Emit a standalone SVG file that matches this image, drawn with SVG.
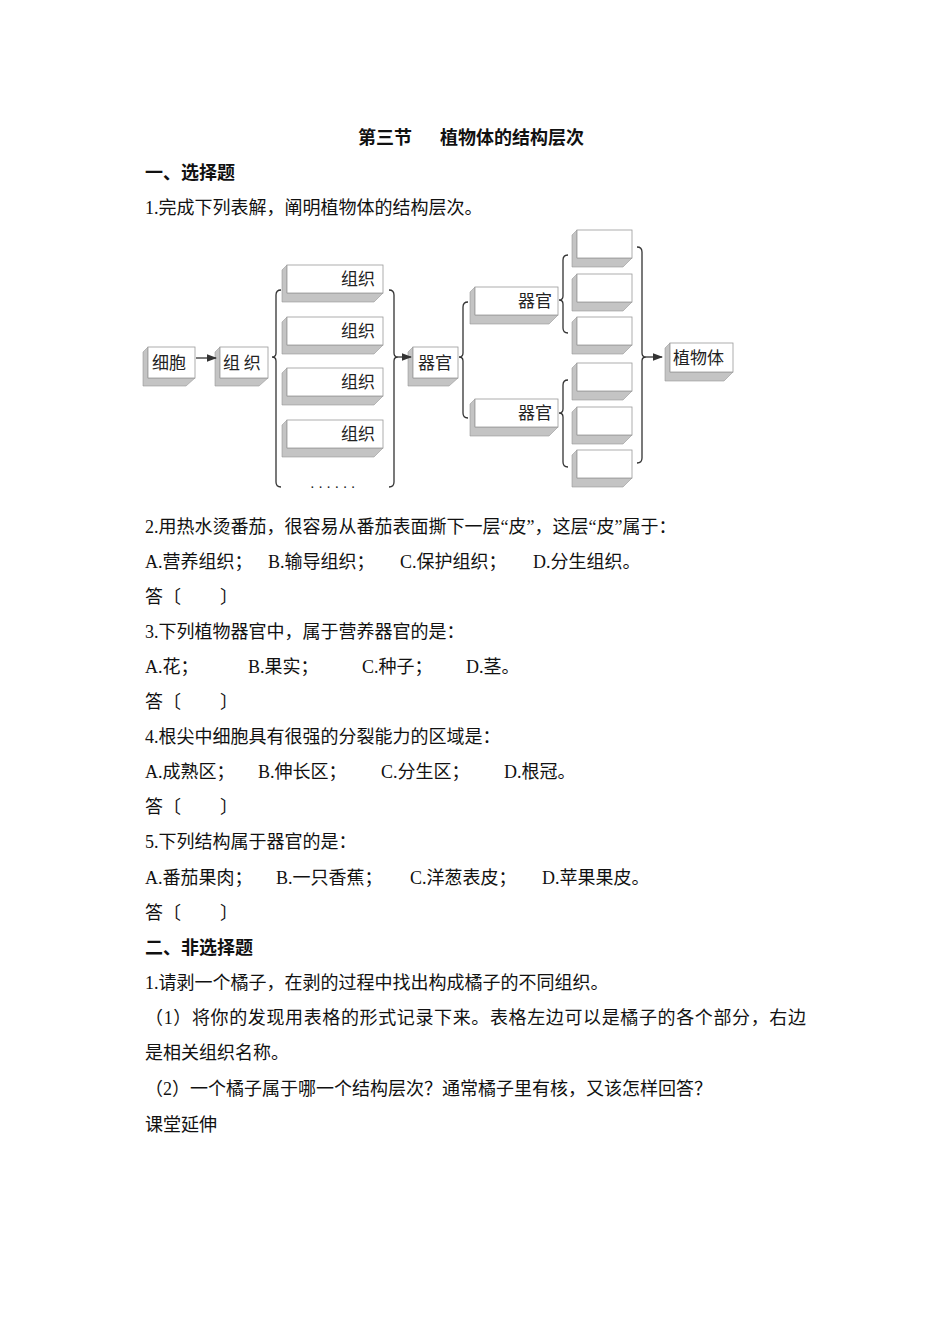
<svg xmlns="http://www.w3.org/2000/svg" width="950" height="1344" viewBox="0 0 950 1344">
<style>
text{font-family:"Liberation Serif","Noto Sans CJK SC",serif;font-size:18px;fill:#111}
.b{font-weight:bold}
.sh{fill:#c4c4c4;stroke:#999;stroke-width:0.6}
.fr{fill:#fff;stroke:#999;stroke-width:0.8}
.lb{font-family:"Noto Sans CJK SC",sans-serif;font-size:17px;fill:#222}
.br{fill:none;stroke:#333;stroke-width:1.3}
.ar{stroke:#333;stroke-width:1.3;marker-end:url(#ah)}
</style>
<defs><marker id="ah" markerWidth="8" markerHeight="6" refX="7" refY="3" orient="auto"><path d="M0,0L8,3L0,6z" fill="#333"/></marker></defs>
<rect width="950" height="1344" fill="#fff"/>
<text class="b" x="358" y="144">第三节</text>
<text class="b" x="440" y="144">植物体的结构层次</text>
<text class="b" x="145" y="179">一、选择题</text>
<text x="145" y="214">1.完成下列表解，阐明植物体的结构层次。</text>

<g id="n-xibao"><polygon class="sh" points="148,347 143,352 143,386 186,386 195,378 148,378"/><rect class="fr" x="148" y="347" width="47" height="31"/><text class="lb" x="152" y="369">细胞</text></g>
<g id="n-zuzhi0"><polygon class="sh" points="220,347 215,352 215,386 259,386 268,378 220,378"/><rect class="fr" x="220" y="347" width="48" height="31"/><text class="lb" x="223" y="369">组 织</text></g>
<g id="n-z1"><polygon class="sh" points="287,265 282,270 282,302 374,302 383,293 287,293"/><rect class="fr" x="287" y="265" width="96" height="28"/><text class="lb" x="375" y="285" text-anchor="end">组织</text></g>
<g id="n-z2"><polygon class="sh" points="287,317 282,322 282,354 374,354 383,345 287,345"/><rect class="fr" x="287" y="317" width="96" height="28"/><text class="lb" x="375" y="337" text-anchor="end">组织</text></g>
<g id="n-z3"><polygon class="sh" points="287,368 282,373 282,405 374,405 383,396 287,396"/><rect class="fr" x="287" y="368" width="96" height="28"/><text class="lb" x="375" y="388" text-anchor="end">组织</text></g>
<g id="n-z4"><polygon class="sh" points="287,420 282,425 282,457 374,457 383,448 287,448"/><rect class="fr" x="287" y="420" width="96" height="28"/><text class="lb" x="375" y="440" text-anchor="end">组织</text></g>
<text x="310" y="492" style="font-size:14px">· · · · · ·</text>
<g id="n-qiguan"><polygon class="sh" points="413,347 408,352 408,386 449,386 458,378 413,378"/><rect class="fr" x="413" y="347" width="45" height="31"/><text class="lb" x="418" y="369">器官</text></g>
<g id="n-qg1"><polygon class="sh" points="475,287 470,292 470,324 549,324 558,315 475,315"/><rect class="fr" x="475" y="287" width="83" height="28"/><text class="lb" x="552" y="307" text-anchor="end">器官</text></g>
<g id="n-qg2"><polygon class="sh" points="475,399 470,404 470,436 549,436 558,427 475,427"/><rect class="fr" x="475" y="399" width="83" height="28"/><text class="lb" x="552" y="419" text-anchor="end">器官</text></g>
<g id="n-e1"><polygon class="sh" points="577,230 572,235 572,267 623,267 632,258 577,258"/><rect class="fr" x="577" y="230" width="55" height="28"/></g>
<g id="n-e2"><polygon class="sh" points="577,274 572,279 572,311 623,311 632,302 577,302"/><rect class="fr" x="577" y="274" width="55" height="28"/></g>
<g id="n-e3"><polygon class="sh" points="577,317 572,322 572,354 623,354 632,345 577,345"/><rect class="fr" x="577" y="317" width="55" height="28"/></g>
<g id="n-e4"><polygon class="sh" points="577,363 572,368 572,400 623,400 632,391 577,391"/><rect class="fr" x="577" y="363" width="55" height="28"/></g>
<g id="n-e5"><polygon class="sh" points="577,407 572,412 572,444 623,444 632,435 577,435"/><rect class="fr" x="577" y="407" width="55" height="28"/></g>
<g id="n-e6"><polygon class="sh" points="577,450 572,455 572,487 623,487 632,478 577,478"/><rect class="fr" x="577" y="450" width="55" height="28"/></g>
<g id="n-zhiwuti"><polygon class="sh" points="670,343 665,348 665,381 724,381 733,372 670,372"/><rect class="fr" x="670" y="343" width="63" height="29"/><text class="lb" x="673" y="364">植物体</text></g>

<g id="connectors">
<line class="ar" x1="196" y1="358" x2="216" y2="358"/>
<path class="br" d="M281,290 Q276,290 276,295 L276,353 Q276,357 272,357 Q276,357 276,361 L276,482 Q276,487 281,487"/>
<path class="br" d="M389,290 Q394,290 394,295 L394,353 Q394,357 398,357 Q394,357 394,361 L394,482 Q394,487 389,487"/>
<line class="ar" x1="398" y1="357" x2="411" y2="357"/>
<path class="br" d="M468,302 Q463,302 463,307 L463,353 Q463,357 459,357 Q463,357 463,361 L463,413 Q463,418 468,418"/>
<path class="br" d="M568,255 Q563,255 563,260 L563,296 Q563,300 559,300 Q563,300 563,304 L563,328 Q563,333 568,333"/>
<path class="br" d="M568,380 Q563,380 563,385 L563,409 Q563,413 559,413 Q563,413 563,417 L563,462 Q563,467 568,467"/>
<path class="br" d="M637,247 Q642,247 642,252 L642,353 Q642,357 646,357 Q642,357 642,361 L642,458 Q642,463 637,463"/>
<line class="ar" x1="646" y1="357" x2="662" y2="357"/>
</g>

<text x="145" y="533">2.用热水烫番茄，很容易从番茄表面撕下一层“皮”，这层“皮”属于：</text>
<text x="145" y="568">A.营养组织；</text><text x="268" y="568">B.输导组织；</text><text x="400" y="568">C.保护组织；</text><text x="533" y="568">D.分生组织。</text>
<text x="145" y="603">答〔</text><text x="220" y="603">〕</text>
<text x="145" y="638">3.下列植物器官中，属于营养器官的是：</text>
<text x="145" y="673">A.花；</text><text x="248" y="673">B.果实；</text><text x="362" y="673">C.种子；</text><text x="466" y="673">D.茎。</text>
<text x="145" y="708">答〔</text><text x="220" y="708">〕</text>
<text x="145" y="743">4.根尖中细胞具有很强的分裂能力的区域是：</text>
<text x="145" y="778">A.成熟区；</text><text x="258" y="778">B.伸长区；</text><text x="381" y="778">C.分生区；</text><text x="504" y="778">D.根冠。</text>
<text x="145" y="813">答〔</text><text x="220" y="813">〕</text>
<text x="145" y="848">5.下列结构属于器官的是：</text>
<text x="145" y="884">A.番茄果肉；</text><text x="276" y="884">B.一只香蕉；</text><text x="410" y="884">C.洋葱表皮；</text><text x="542" y="884">D.苹果果皮。</text>
<text x="145" y="919">答〔</text><text x="220" y="919">〕</text>
<text class="b" x="145" y="954">二、非选择题</text>
<text x="145" y="989">1.请剥一个橘子，在剥的过程中找出构成橘子的不同组织。</text>
<text x="145" y="1024" textLength="661">（1）将你的发现用表格的形式记录下来。表格左边可以是橘子的各个部分，右边</text>
<text x="145" y="1059">是相关组织名称。</text>
<text x="145" y="1095">（2）一个橘子属于哪一个结构层次？通常橘子里有核，又该怎样回答？</text>
<text x="145" y="1131">课堂延伸</text>
</svg>
